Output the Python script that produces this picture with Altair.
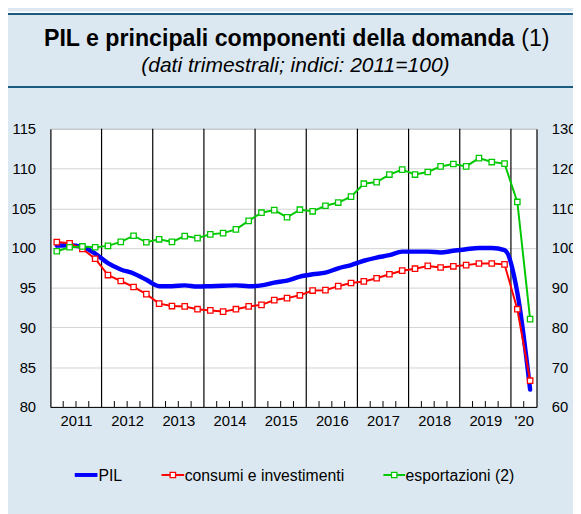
import json
import altair as alt
import pandas as pd

# ---------------- data ----------------
quarters = [f"{y}Q{q}" for y in range(2011, 2021) for q in range(1, 5)][:38]

pil = [100.3, 100.35, 100.15, 99.3,
       98.1, 97.3, 96.8, 96.0,
       95.2, 95.2, 95.3, 95.15,
       95.2, 95.25, 95.3, 95.2,
       95.3, 95.65, 95.9, 96.4,
       96.7, 96.9, 97.45, 97.85,
       98.4, 98.8, 99.1, 99.55,
       99.55, 99.55, 99.45, 99.65,
       99.85, 100.0, 100.0, 99.75,
       94.4, 82.2]

consumi = [100.75, 100.6, 99.9, 98.65,
           96.6, 95.85, 95.1, 94.2,
           93.0, 92.7, 92.65, 92.3,
           92.15, 92.0, 92.3, 92.65,
           92.85, 93.45, 93.7, 94.05,
           94.65, 94.7, 95.2, 95.6,
           95.8, 96.2, 96.7, 97.15,
           97.4, 97.75, 97.55, 97.7,
           97.85, 98.05, 98.05, 97.95,
           92.3, 83.3]

esportazioni = [99.2, 100.2, 100.4, 100.2,
                100.55, 101.55, 103.1, 101.45,
                102.2, 101.55, 103.0, 102.5,
                103.45, 103.75, 104.7, 106.85,
                108.9, 109.55, 107.75, 109.65,
                109.25, 110.65, 111.45, 112.95,
                116.2, 116.6, 118.5, 119.75,
                118.5, 119.15, 120.55, 121.15,
                120.55, 122.65, 121.65, 121.25,
                111.6, 82.1]

year_labels = ["2011", "2012", "2013", "2014", "2015", "2016", "2017", "2018", "2019", "'20"]
year_label_pos = [2011.5, 2012.5, 2013.5, 2014.5, 2015.5, 2016.5, 2017.5, 2018.5, 2019.5, 2020.25]
year_bounds = list(range(2012, 2021))
quarter_bounds = [y + k / 4 for y in range(2011, 2021) for k in (1, 2, 3) if y + k / 4 < 2020.5]
left_ticks = list(range(80, 116, 5))
right_ticks = list(range(60, 131, 10))

title_main = "PIL e principali componenti della domanda"
title_note = "(1)"
subtitle = "(dati trimestrali; indici: 2011=100)"
legend_labels = ["PIL", "consumi e investimenti", "esportazioni (2)"]

# ---------------- styles ----------------
FONT = "Liberation Sans"
BLUE = "#0000ff"
RED = "#ff0000"
GREEN = "#00c800"
PANEL = "#dce8f1"
DARK = "#1d5a80"


def qpos(q):
    y, n = q.split("Q")
    return int(y) + (int(n) - 0.5) / 4


df = pd.DataFrame({
    "q": quarters,
    "t": [qpos(q) for q in quarters],
    "pil": pil,
    "cons": consumi,
    "exp": esportazioni,
})

label_expr = " : ".join(
    f"datum.value == {p} ? {json.dumps(l)}" for p, l in zip(year_label_pos, year_labels)
) + " : ''"

xscale = alt.Scale(domain=[2011, 2020.5], nice=False, zero=False)
xaxis = alt.Axis(values=year_label_pos, labelExpr=label_expr, title=None, grid=False,
                 ticks=False, tickSize=0, domain=True, domainColor="black",
                 labelFontSize=15, labelColor="black", labelPadding=7, labelFont=FONT,
                 labelFlush=False, labelOverlap=False)
X = alt.X("t:Q", scale=xscale, axis=xaxis)

yl_scale = alt.Scale(domain=[80, 115], nice=False, zero=False)
yl_axis = alt.Axis(values=left_ticks, title=None, grid=True, gridColor="#d2d2d2",
                   ticks=False, tickSize=0, domainColor="black", labelFontSize=15,
                   labelColor="black", labelPadding=15, labelFont=FONT)
yr_scale = alt.Scale(domain=[60, 130], nice=False, zero=False)
yr_axis = alt.Axis(values=right_ticks, title=None, grid=False, orient="right",
                   ticks=False, tickSize=0, domainColor="black", labelFontSize=15,
                   labelColor="black", labelPadding=15, labelFont=FONT, labelAlign="left")

one = pd.DataFrame({"k": [0]})

# year separators and quarter ticks
years_df = pd.DataFrame({"t": year_bounds})
qt_df = pd.DataFrame({"t": quarter_bounds})
year_lines = alt.Chart(years_df).mark_rule(color="black", strokeWidth=1.2).encode(x=X)
q_ticks = alt.Chart(qt_df).mark_rule(color="black", strokeWidth=1).encode(
    x=X, y=alt.value(282), y2=alt.value(276))

base = alt.Chart(df)
pil_line = base.mark_line(color=BLUE, strokeWidth=4.5, interpolate="monotone",
                          strokeCap="round", strokeJoin="round").encode(
    x=X, y=alt.Y("pil:Q", scale=yl_scale, axis=yl_axis))
cons_line = base.mark_line(color=RED, strokeWidth=2).encode(
    x=X, y=alt.Y("cons:Q", scale=yl_scale, axis=yl_axis))
cons_pts = base.mark_point(shape="square", filled=True, fill="white", stroke=RED,
                           strokeWidth=1.3, size=30, opacity=1).encode(
    x=X, y=alt.Y("cons:Q", scale=yl_scale, axis=yl_axis))
exp_line = base.mark_line(color=GREEN, strokeWidth=2).encode(
    x=X, y=alt.Y("exp:Q", scale=yr_scale, axis=yr_axis))
exp_pts = base.mark_point(shape="square", filled=True, fill="white", stroke=GREEN,
                          strokeWidth=1.3, size=30, opacity=1).encode(
    x=X, y=alt.Y("exp:Q", scale=yr_scale, axis=yr_axis))

# header decoration + titles
top_white = alt.Chart(one).mark_rect(color="white").encode(
    x=alt.value(-44), x2=alt.value(540), y=alt.value(-119), y2=alt.value(-117.5))
top_rule = alt.Chart(one).mark_rule(color=DARK, strokeWidth=2).encode(
    x=alt.value(-44), x2=alt.value(540), y=alt.value(-116.5))
mid_rule = alt.Chart(one).mark_rule(color=DARK, strokeWidth=2).encode(
    x=alt.value(-44), x2=alt.value(540), y=alt.value(-42.5))
t_main = alt.Chart(one).mark_text(text=title_main, font=FONT, fontSize=23.5, fontWeight="bold",
                                  align="left", baseline="alphabetic", color="black").encode(
    x=alt.value(-6.5), y=alt.value(-84))
t_note = alt.Chart(one).mark_text(text=title_note, font=FONT, fontSize=23.5,
                                  align="left", baseline="alphabetic", color="black").encode(
    x=alt.value(477.5), y=alt.value(-84))
t_sub = alt.Chart(one).mark_text(text=subtitle, font=FONT, fontSize=21.3, fontStyle="italic",
                                 align="center", baseline="alphabetic", color="black").encode(
    x=alt.value(248.5), y=alt.value(-57.5))

# legend
LY = 351
lg_pil_line = alt.Chart(one).mark_rule(color=BLUE, strokeWidth=4).encode(
    x=alt.value(24.7), x2=alt.value(47.7), y=alt.value(LY))
lg_pil_txt = alt.Chart(one).mark_text(text=legend_labels[0], font=FONT, fontSize=16,
                                      align="left", baseline="alphabetic").encode(
    x=alt.value(48.7), y=alt.value(LY + 6))
lg_cons_line = alt.Chart(one).mark_rule(color=RED, strokeWidth=2).encode(
    x=alt.value(112.7), x2=alt.value(135.7), y=alt.value(LY))
lg_cons_pt = alt.Chart(one).mark_point(shape="square", filled=True, fill="white", stroke=RED,
                                       strokeWidth=1.3, size=30, opacity=1).encode(
    x=alt.value(124.2), y=alt.value(LY))
lg_cons_txt = alt.Chart(one).mark_text(text=legend_labels[1], font=FONT, fontSize=16,
                                       align="left", baseline="alphabetic").encode(
    x=alt.value(136.2), y=alt.value(LY + 6))
lg_exp_line = alt.Chart(one).mark_rule(color=GREEN, strokeWidth=2).encode(
    x=alt.value(337.7), x2=alt.value(359.7), y=alt.value(LY))
lg_exp_pt = alt.Chart(one).mark_point(shape="square", filled=True, fill="white", stroke=GREEN,
                                      strokeWidth=1.3, size=30, opacity=1).encode(
    x=alt.value(348.7), y=alt.value(LY))
lg_exp_txt = alt.Chart(one).mark_text(text=legend_labels[2], font=FONT, fontSize=16,
                                      align="left", baseline="alphabetic").encode(
    x=alt.value(360.2), y=alt.value(LY + 6))

left = alt.layer(top_white, top_rule, mid_rule, t_main, t_note, t_sub,
                 year_lines, q_ticks, pil_line, cons_line, cons_pts,
                 lg_pil_line, lg_pil_txt, lg_cons_line, lg_cons_pt, lg_cons_txt,
                 lg_exp_line, lg_exp_pt, lg_exp_txt)
right = alt.layer(exp_line, exp_pts)

chart = alt.layer(left, right).resolve_scale(y="independent").properties(
    width=493, height=282,
    autosize=alt.AutoSizeParams(type="none"),
    padding={"left": 43, "top": 119, "right": 37, "bottom": 105},
    background=PANEL,
).configure_view(fill="white", stroke="#888888", strokeWidth=1)

chart.save("out.html", embed_options={"renderer": "svg", "actions": False})
